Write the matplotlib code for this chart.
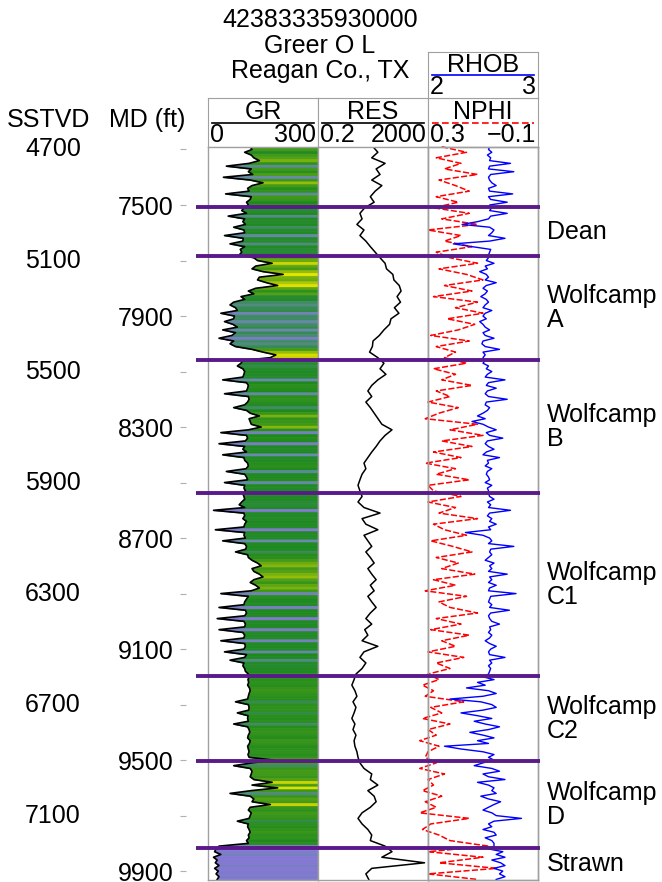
import matplotlib.pyplot as plt
import matplotlib.transforms as mtransforms
from matplotlib.colors import LinearSegmentedColormap, Normalize
import numpy as np

plt.rcParams['font.family'] = ['Liberation Sans', 'DejaVu Sans']

W, H = 662, 882
FS = 18

# well header
api_no = '42383335930000'
lease = 'Greer O L'
county = 'Reagan Co., TX'

# MD - SSTVD
datum_shift = 2600

# formation tops (MD ft) and names of the interval below each top
tops_md = [7507, 7684, 8059, 8538, 9197, 9504, 9817]
tops_names = ['Dean', 'Wolfcamp\nA', 'Wolfcamp\nB', 'Wolfcamp\nC1',
              'Wolfcamp\nC2', 'Wolfcamp\nD', 'Strawn']

# GR and RHOB: one sample every 10 ft from 7290 ft MD
gr_api = [115, 120, 100, 118, 125, 140, 112, 50, 118, 110, 122, 42, 115, 150, 120, 108,
          112, 48, 118, 115, 105, 110,
          # Dean
          98, 92, 105, 55, 100, 95, 102, 70, 98, 100, 45, 96, 95, 60, 100, 88, 92, 85,
          # Wolfcamp A
          125, 135, 175, 130, 120, 150, 205, 140, 135, 160, 190, 130, 110, 125, 90, 100,
          70, 60, 75, 80, 35, 72, 70, 45, 68, 80, 40, 75, 65, 30, 70, 60, 75,
          120, 150, 185, 170,
          # Wolfcamp B
          95, 90, 80, 95, 100, 98, 95, 40, 105, 110,
          108, 105, 45, 110, 112, 108, 100, 70, 105, 115,
          140, 112, 115, 118, 145, 110, 35, 105, 108, 102,
          30, 100, 95, 105, 40, 98, 100, 108, 110, 104,
          50, 100, 105, 108, 45, 100, 98, 102,
          # Wolfcamp C1
          95, 98, 100, 92, 85, 100, 15, 98, 100, 95,
          105, 100, 98, 20, 100, 98, 102, 40, 100, 105,
          103, 75, 108, 110, 120, 135, 145, 120, 125, 140,
          150, 125, 115, 130, 140, 118, 35, 110, 105, 100,
          98, 30, 102, 105, 100, 25, 98, 102, 100, 30,
          95, 100, 98, 35, 100, 102, 98, 45, 105, 100,
          60, 98, 95, 100, 102,
          # Wolfcamp C2
          110, 112, 109, 111, 108, 113, 115, 112, 110, 108,
          75, 110, 112, 111, 80, 109, 108, 110, 70, 108,
          112, 114, 110, 108, 115, 113, 108, 110, 112, 109, 112,
          # Wolfcamp D
          180, 120, 70, 115, 120, 118, 115, 125, 175, 120,
          190, 118, 60, 115, 125, 120, 170, 115, 110, 118,
          115, 112, 80, 110, 108, 112, 115, 110, 112, 105, 110,
          # Strawn
          30, 22, 18, 35, 15, 25, 20, 30, 18, 28, 22, 30, 25]

rhob = [2.56, 2.55, 2.58, 2.54, 2.57, 2.56, 2.75, 2.56, 2.55, 2.78, 2.57, 2.55, 2.56, 2.58,
        2.62, 2.55, 2.56, 2.77, 2.55, 2.57, 2.72, 2.56,
        2.58, 2.56, 2.72, 2.57, 2.55, 2.45, 2.31, 2.56, 2.6, 2.58, 2.55, 2.7, 2.56, 2.23,
        2.4, 2.57, 2.56, 2.55,
        2.55, 2.53, 2.6, 2.52, 2.54, 2.47, 2.53, 2.55, 2.52, 2.62, 2.53, 2.5, 2.54, 2.52,
        2.48, 2.53, 2.55, 2.52, 2.5, 2.58, 2.52, 2.5, 2.53, 2.47, 2.5, 2.52, 2.56, 2.5,
        2.52, 2.6, 2.5, 2.49, 2.52, 2.65, 2.5, 2.52, 2.5,
        2.52, 2.5, 2.55, 2.53, 2.58, 2.54, 2.52, 2.7, 2.55, 2.53,
        2.62, 2.54, 2.52, 2.55, 2.72, 2.53, 2.52, 2.56, 2.54, 2.5,
        2.45, 2.52, 2.4, 2.5, 2.55, 2.62, 2.53, 2.56, 2.68, 2.54,
        2.52, 2.55, 2.6, 2.53, 2.5, 2.65, 2.54, 2.55, 2.52, 2.58,
        2.54, 2.53, 2.55, 2.56, 2.52, 2.58, 2.54, 2.55,
        2.55, 2.56, 2.6, 2.54, 2.57, 2.55, 2.75, 2.56, 2.54, 2.58,
        2.56, 2.62, 2.55, 2.57, 2.34, 2.5, 2.56, 2.58, 2.55, 2.78,
        2.57, 2.56, 2.58, 2.55, 2.52, 2.6, 2.56, 2.58, 2.55, 2.72,
        2.56, 2.58, 2.55, 2.62, 2.56, 2.55, 2.8, 2.57, 2.56, 2.55,
        2.58, 2.56, 2.74, 2.57, 2.55, 2.56, 2.58, 2.65, 2.56, 2.57,
        2.55, 2.58, 2.56, 2.52, 2.56, 2.62, 2.57, 2.55, 2.56, 2.7,
        2.56, 2.58, 2.55, 2.57, 2.56,
        2.55, 2.5, 2.6, 2.45, 2.52, 2.35, 2.55, 2.62, 2.5, 2.2,
        2.48, 2.58, 2.62, 2.5, 2.3, 2.45, 2.58, 2.42, 2.52, 2.65,
        2.55, 2.38, 2.5, 2.6, 2.45, 2.55, 2.15, 2.3, 2.5, 2.6, 2.55,
        2.6, 2.5, 2.42, 2.58, 2.65, 2.5, 2.55, 2.7, 2.45, 2.55,
        2.6, 2.58, 2.62, 2.48, 2.55, 2.66, 2.6, 2.55, 2.5, 2.58,
        2.62, 2.85, 2.6, 2.55, 2.58, 2.5, 2.6, 2.62, 2.52, 2.58, 2.6,
        2.6, 2.55, 2.68, 2.62, 2.7, 2.58, 2.66, 2.7, 2.6, 2.68, 2.65, 2.7, 2.62]

# RES and NPHI: one sample every 20 ft from 7290 ft MD
res_ohmm = [20, 30, 18, 55, 26, 36, 18, 42, 24, 16, 22,
            10, 6.7, 8, 5.2, 9.4, 6.7, 11, 16, 24,
            36, 55, 62, 105, 115, 180, 210, 150, 200, 120, 175, 90, 80, 50, 34, 20, 19, 15,
            30, 50, 36, 59, 30, 18, 13, 18, 11, 16, 22, 30, 42, 98, 55, 36, 26, 18, 13, 9.4,
            11, 8, 6.7, 5.7,
            6.7, 8, 5.7, 9.4, 36, 8, 11, 30, 9.4, 13, 18, 11, 16, 22, 13, 18, 26, 16, 22, 13,
            18, 26, 16, 11, 18, 10, 13, 8, 30, 9.4, 6.7, 11, 8,
            4.8, 4.1, 3.4, 4.4, 5.2, 3.75, 4.8, 4.1, 3.4, 4.4, 3.75, 4.8, 4.1, 4.4, 5.2,
            5.7, 6.7, 9.4, 18, 16, 30, 13, 22, 26, 16, 8, 5.7, 8, 13, 18,
            16, 55, 98, 42, 1500, 18, 11, 14]

nphi = [0.25, 0.16, 0.27, 0.18, 0.24, 0.12, 0.26, 0.2, 0.15, 0.27, 0.19,
        0.28, 0.15, 0.25, 0.12, 0.3, 0.18, 0.24, 0.14, 0.27,
        0.22, 0.12, 0.26, 0.16, 0.1, 0.24, 0.14, 0.28, 0.12, 0.2, 0.1, 0.23, 0.13, 0.19,
        0.29, 0.15, 0.27, 0.2,
        0.24, 0.16, 0.28, 0.2, 0.25, 0.14, 0.27, 0.22, 0.3, 0.19, 0.26, 0.31, 0.12, 0.22,
        0.1, 0.25, 0.14, 0.28, 0.18, 0.31, 0.2, 0.27, 0.15, 0.3,
        0.28, 0.18, 0.3, 0.2, 0.26, 0.12, 0.28, 0.24, 0.16, 0.29, 0.21, 0.14, 0.27, 0.19,
        0.25, 0.13, 0.28, 0.2, 0.31, 0.16, 0.26, 0.22, 0.12, 0.27, 0.18, 0.29, 0.15, 0.25,
        0.2, 0.3, 0.17, 0.27, 0.22,
        0.3, 0.26, 0.32, 0.28, 0.31, 0.17, 0.29, 0.25, 0.32, 0.22, 0.3, 0.27, 0.33, 0.26, 0.3,
        0.31, 0.27, 0.33, 0.24, 0.3, 0.28, 0.32, 0.25, 0.31, 0.27, 0.33, 0.15, 0.29, 0.32,
        0.26,
        0.22, 0.08, 0.3, 0.1, 0.26, 0.05, 0.3, 0.12]

md_fine = 7290 + 10 * np.arange(len(gr_api))
md_coarse = 7290 + 20 * np.arange(len(res_ohmm))
gr = np.array(gr_api, dtype=float)

TOP_MD, BOT_MD = 7291, 9932
FRAME = '#a0a0a0'
TOP_COLOR = '#5a1a8a'

# GR shading: clean rock lavender, silty slate/teal, shale green, hot shale yellow
gr_cmap = LinearSegmentedColormap.from_list('gr', [
    (0.0, '#8a78dc'), (0.125, '#8278d0'), (0.2, '#6a88b0'), (0.3, '#4f8a80'),
    (0.425, '#2a8a3a'), (0.525, '#1e8a1e'), (0.675, '#6aaa10'), (0.85, '#c8d200'),
    (1.0, '#e6e600')])
gr_norm = Normalize(0, 200, clip=True)


def box(x0, y0, x1, y1):
    return [x0 / W, 1 - y1 / H, (x1 - x0) / W, (y1 - y0) / H]


def style_track(ax):
    ax.set_ylim(BOT_MD, TOP_MD)
    ax.set_xticks([])
    ax.set_yticks([])
    for s in ax.spines.values():
        s.set_color(FRAME)
        s.set_linewidth(1)


def header(x0, y0, x1, y1, name, lo, hi, color, ls='-'):
    ax = fig.add_axes(box(x0, y0, x1, y1))
    ax.set_xticks([])
    ax.set_yticks([])
    for s in ax.spines.values():
        s.set_color(FRAME)
    ax.text(0.5, 0.71, name, ha='center', va='center', fontsize=FS, transform=ax.transAxes)
    ax.plot([0.04, 0.96], [0.5, 0.5], color=color, ls=ls, lw=1.2, transform=ax.transAxes)
    ax.text(0.02, 0.25, lo, ha='left', va='center', fontsize=FS, transform=ax.transAxes)
    ax.text(0.985, 0.25, hi, ha='right', va='center', fontsize=FS, transform=ax.transAxes)
    return ax


fig = plt.figure(figsize=(W / 100, H / 100), dpi=100)

# title block
for txt, yb in zip([api_no, lease, county], [27, 53, 78]):
    fig.text(320 / W, 1 - yb / H, txt, ha='center', va='baseline', fontsize=FS)

fig.text(49 / W, 1 - 127 / H, 'SSTVD', ha='center', va='baseline', fontsize=FS)
fig.text(147 / W, 1 - 127 / H, 'MD (ft)', ha='center', va='baseline', fontsize=FS)

# track headers
header(208, 98, 318, 147, 'GR', '0', '300', 'black')
header(318, 98, 428, 147, 'RES', '0.2', '2000', 'black')
header(428, 98, 538, 147, 'NPHI', '0.3', '\u22120.1', 'red', ls=(0, (4, 2)))
header(428, 52, 538, 98, 'RHOB', '2', '3', 'blue')

# GR track: each sample shaded from the curve to 300 API in its own colour
ax_gr = fig.add_axes(box(208, 147, 318, 880))
mid_md = (md_fine[:-1] + md_fine[1:]) / 2
mid_gr = (gr[:-1] + gr[1:]) / 2
for i in range(len(gr)):
    ys = [mid_md[i - 1] if i > 0 else md_fine[0], md_fine[i],
          mid_md[i] if i < len(gr) - 1 else md_fine[-1]]
    xs = [mid_gr[i - 1] if i > 0 else gr[0], gr[i],
          mid_gr[i] if i < len(gr) - 1 else gr[-1]]
    c = gr_cmap(gr_norm(gr[i]))
    ax_gr.fill_betweenx(ys, xs, 300, color=c, lw=0.5, ec=c)
ax_gr.plot(gr, md_fine, color='black', lw=1.2)
ax_gr.set_xlim(0, 300)
style_track(ax_gr)

# resistivity track
ax_res = fig.add_axes(box(318, 147, 428, 880))
ax_res.plot(res_ohmm, md_coarse, color='black', lw=1.1)
ax_res.set_xscale('log')
ax_res.set_xlim(0.2, 2000)
ax_res.minorticks_off()
style_track(ax_res)

# porosity track: NPHI and RHOB
ax_np = fig.add_axes(box(428, 147, 538, 880))
ax_np.plot(nphi, md_coarse, color='red', lw=1.1, ls=(0, (4, 1.5)), clip_on=False)
ax_np.set_xlim(0.3, -0.1)
style_track(ax_np)
ax_rh = ax_np.twiny()
ax_rh.plot(rhob, md_fine, color='blue', lw=1.0)
ax_rh.set_xlim(2, 3)
style_track(ax_rh)

# depth scale
ax_md = fig.add_axes(box(186, 147, 187, 880))
ax_md.set_ylim(BOT_MD, TOP_MD)
for s in ax_md.spines.values():
    s.set_visible(False)
ax_md.patch.set_alpha(0)
ax_md.set_xticks([])
ticks = list(range(7300, 9901, 200))
ax_md.set_yticks(ticks)
ax_md.set_yticklabels([str(t) if (t - 7500) % 400 == 0 else '' for t in ticks])
ax_md.tick_params(axis='y', length=4, color='#b0b0b0', labelsize=FS, pad=5)
trans = mtransforms.blended_transform_factory(fig.transFigure, ax_md.transData)
for t in ticks:
    if (t - 7500) % 400 != 0:
        fig.text(53 / W, t, str(t - datum_shift), transform=trans,
                 ha='center', va='center', fontsize=FS)

# formation tops across all tracks
ax_tops = fig.add_axes(box(196, 147, 540, 880), zorder=5)
ax_tops.set_ylim(BOT_MD, TOP_MD)
ax_tops.set_xlim(0, 1)
ax_tops.axis('off')
for t in tops_md:
    ax_tops.axhline(t, color=TOP_COLOR, lw=2.8)

bounds = tops_md + [BOT_MD]
ttrans = mtransforms.blended_transform_factory(fig.transFigure, ax_tops.transData)
for name, a, b in zip(tops_names, bounds[:-1], bounds[1:]):
    fig.text(547 / W, (a + b) / 2, name, transform=ttrans, ha='left', va='center',
             fontsize=FS, linespacing=1.0)

fig.savefig('out.png', dpi=100)
